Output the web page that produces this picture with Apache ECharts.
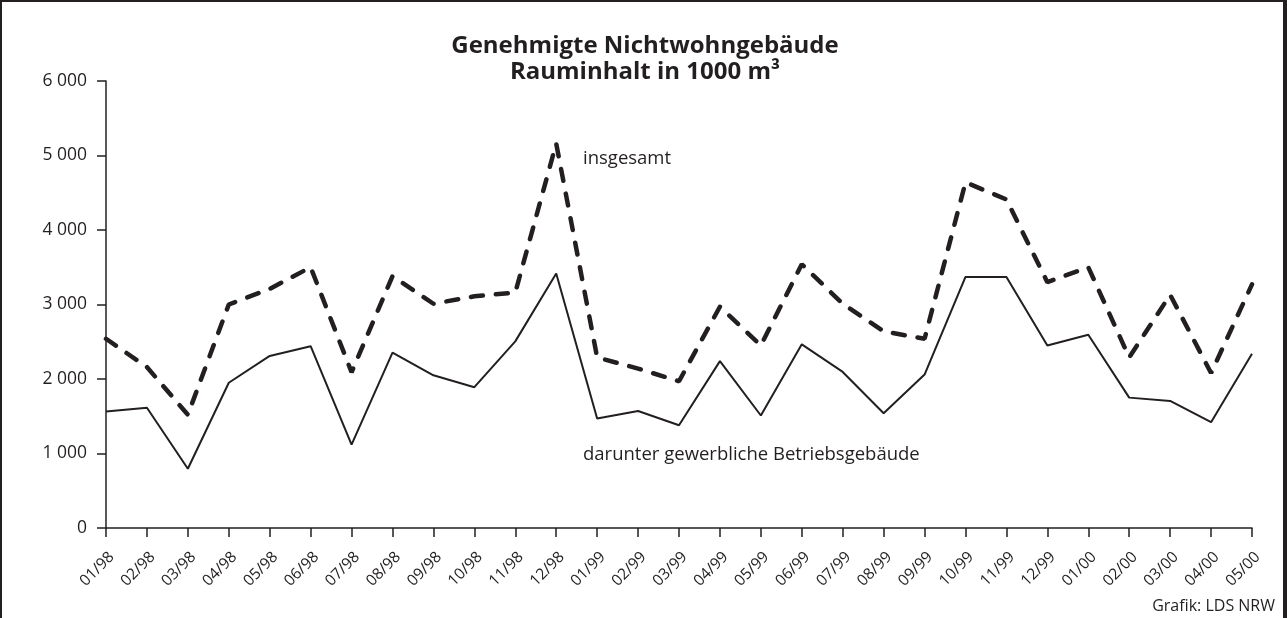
<!DOCTYPE html>
<html>
<head>
<meta charset="utf-8">
<script src="https://cdn.jsdelivr.net/npm/echarts@6/dist/echarts.min.js"></script>
<style>
  body { margin: 0; background: #fff; }
  #wrap {
    position: relative;
    width: 1287px;
    height: 618px;
    box-sizing: border-box;
    border-top: 2px solid #231f20;
    border-left: 2px solid #231f20;
    border-right: 4px solid #231f20;
  }
  #nichtwohn-chart {
    position: absolute;
    left: -2px;
    top: -2px;
    width: 1287px;
    height: 618px;
  }
</style>
</head>
<body>
<div id="wrap"><div id="nichtwohn-chart"></div></div>
<script>
const months = ['01/98', '02/98', '03/98', '04/98', '05/98', '06/98', '07/98', '08/98', '09/98', '10/98', '11/98', '12/98',
  '01/99', '02/99', '03/99', '04/99', '05/99', '06/99', '07/99', '08/99', '09/99', '10/99', '11/99', '12/99',
  '01/00', '02/00', '03/00', '04/00', '05/00']
// insgesamt (1000 m³)
const insgesamt = [2540, 2160, 1520, 3000, 3210, 3500, 2090, 3380, 3010, 3110, 3160, 5160,
  2290, 2140, 1970, 2970, 2450, 3540, 3010, 2640, 2540, 4640, 4410, 3300,
  3500, 2290, 3130, 2080, 3270]
// darunter gewerbliche Betriebsgebäude
const gewerblich = [1565, 1615, 795, 1950, 2310, 2440, 1120, 2355, 2050, 1890, 2505, 3415,
  1470, 1570, 1380, 2240, 1510, 2465, 2095, 1540, 2060, 3370, 3370, 2450,
  2595, 1750, 1705, 1420, 2340]
const yTicks = { min: 0, max: 6000, interval: 1000 }

const font = '"Open Sans", "Noto Sans", sans-serif'
const ink = '#231f20'
const myChart = echarts.init(document.getElementById('nichtwohn-chart'))
const option = {
  animation: false,
  textStyle: { fontFamily: font },
  title: [
    {
      text: 'Genehmigte Nichtwohngebäude\nRauminhalt in 1000 m³',
      left: 645,
      top: 33,
      padding: 0,
      textAlign: 'center',
      textStyle: { fontFamily: font, fontSize: 24, fontWeight: 'bold', color: ink, lineHeight: 26 }
    },
    {
      text: 'insgesamt',
      left: 583,
      top: 148,
      padding: 0,
      textStyle: { fontFamily: font, fontSize: 18.5, fontWeight: 'normal', color: ink, lineHeight: 22 }
    },
    {
      text: 'darunter gewerbliche Betriebsgebäude',
      left: 583,
      top: 444,
      padding: 0,
      textStyle: { fontFamily: font, fontSize: 18.5, fontWeight: 'normal', color: ink, lineHeight: 22 }
    },
    {
      text: 'Grafik: LDS NRW',
      right: 12,
      top: 596,
      padding: 0,
      textStyle: { fontFamily: font, fontSize: 16, fontWeight: 'normal', color: ink, lineHeight: 20 }
    }
  ],
  grid: {
    left: 106,
    right: 35,
    top: 81,
    bottom: 90,
    containLabel: false
  },
  xAxis: {
    type: 'category',
    boundaryGap: false,
    data: months,
    axisLine: { lineStyle: { color: ink, width: 1.5 } },
    axisTick: { alignWithLabel: true, length: 9, lineStyle: { color: ink, width: 1.5 } },
    axisLabel: {
      interval: 0,
      rotate: 45,
      margin: 21,
      verticalAlign: 'top',
      fontSize: 15.5,
      color: ink,
      fontFamily: font
    },
    splitLine: { show: false }
  },
  yAxis: {
    type: 'value',
    min: yTicks.min,
    max: yTicks.max,
    interval: yTicks.interval,
    axisLine: { show: true, lineStyle: { color: ink, width: 1.5 } },
    axisTick: { show: true, length: 9, lineStyle: { color: ink, width: 1.5 } },
    axisLabel: {
      margin: 19,
      fontSize: 17.5,
      color: ink,
      fontFamily: font,
      formatter: function(v) {
        return String(v).replace(/\B(?=(\d{3})+(?!\d))/g, ' ')
      }
    },
    splitLine: { show: false }
  },
  series: [
    {
      name: 'insgesamt',
      type: 'line',
      data: insgesamt,
      symbol: 'none',
      lineStyle: { color: ink, width: 4.5, type: [12, 13], cap: 'round' }
    },
    {
      name: 'darunter gewerbliche Betriebsgebäude',
      type: 'line',
      data: gewerblich,
      symbol: 'none',
      lineStyle: { color: ink, width: 2 }
    }
  ]
}
myChart.setOption(option)
</script>
</body>
</html>
